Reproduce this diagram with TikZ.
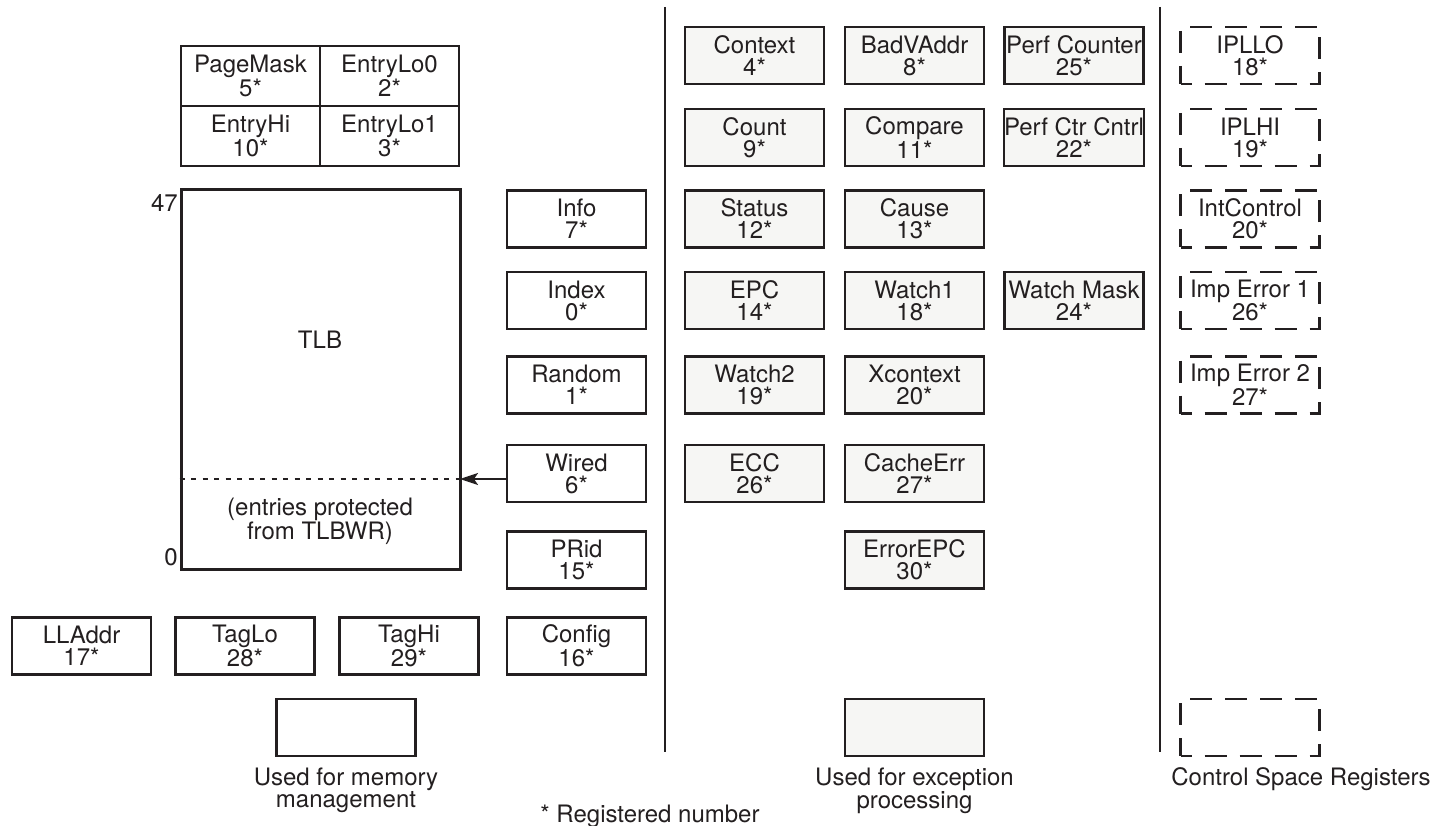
\documentclass[tikz,border=0pt]{standalone}
\usepackage{fontspec}
\setmainfont{TeX Gyre Heros}
\usetikzlibrary{positioning,arrows.meta}
\definecolor{ink}{RGB}{35,31,32}
\definecolor{exfill}{RGB}{246,246,244}

\begin{document}
\begin{tikzpicture}[x=1pt,y=-1pt,
                every node/.style={font=\fontsize{24}{22}\selectfont, text=ink},
                reg/.style={draw=ink, line width=2.1pt, minimum width=139pt, minimum height=57pt, inner sep=0pt, align=center},
                mmreg/.style={reg, fill=white},
                exreg/.style={reg, fill=exfill},
                csreg/.style={reg, dash pattern=on 22pt off 13pt, dash phase=11pt},
                cell/.style={reg, minimum height=60pt},
                sepline/.style={draw=ink, line width=2pt}]
            \useasboundingbox (0,0) rectangle (1446,826);

            \node[cell] (pagemask) at (250.5,76) {PageMask\\5*};
            \node[cell] (entrylo0) at (389.5,76) {EntryLo0\\2*};
            \node[cell] (entryhi) at (250.5,136) {EntryHi\\10*};
            \node[cell] (entrylo1) at (389.5,136) {EntryLo1\\3*};

            \node[draw=ink, line width=3pt, minimum width=279pt, minimum height=379pt, inner sep=0pt] (tlb) at (320.5,379.5) {};
            \node (tlbname) at (320,340) {TLB};
            \node[align=center] (tlbwr) at (320,521) {(entries protected\\from TLBWR)};
            \node[anchor=east, inner sep=1pt] (top47) at (179,203) {47};
            \node[anchor=east, inner sep=1pt] (bot0) at (179,557) {0};

            \node[mmreg] (info) at (576.5,219) {Info\\7*};
            \node[mmreg] (index) at (576.5,300.5) {Index\\0*};
            \node[mmreg] (random) at (576.5,385) {Random\\1*};
            \node[mmreg] (wired) at (576.5,473.5) {Wired\\6*};
            \node[mmreg] (prid) at (576.5,560) {PRid\\15*};
            \node[mmreg] (config) at (576.5,646) {Config\\16*};
            \node[mmreg] (lladdr) at (81.5,646) {LLAddr\\17*};
            \node[mmreg] (taglo) at (245,646) {TagLo\\28*};
            \node[mmreg] (taghi) at (409,646) {TagHi\\29*};

            \coordinate (wiredin) at (460,479);
            \draw[ink, line width=2pt, dash pattern=on 5pt off 6.5pt] (tlb.west |- wiredin) -- (wiredin);
            \draw[ink, line width=2.2pt, -{Stealth[length=18pt, width=12pt, inset=4pt]}] (wired.west |- wiredin) -- (wiredin);

            \node[exreg] (context) at (754.5,55.5) {Context\\4*};
            \node[exreg] (badvaddr) at (914.5,55.5) {BadVAddr\\8*};
            \node[exreg] (perfcounter) at (1074,55.5) {Perf Counter\\25*};
            \node[exreg] (count) at (754.5,137.5) {Count\\9*};
            \node[exreg] (compare) at (914.5,137.5) {Compare\\11*};
            \node[exreg] (perfctrl) at (1074,137.5) {Perf Ctr Cntrl\\22*};
            \node[exreg] (status) at (754.5,219) {Status\\12*};
            \node[exreg] (cause) at (914.5,219) {Cause\\13*};
            \node[exreg] (epc) at (754.5,300.5) {EPC\\14*};
            \node[exreg] (watch1) at (914.5,300.5) {Watch1\\18*};
            \node[exreg] (watchmask) at (1074,300.5) {Watch Mask\\24*};
            \node[exreg] (watch2) at (754.5,385) {Watch2\\19*};
            \node[exreg] (xcontext) at (914.5,385) {Xcontext\\20*};
            \node[exreg] (ecc) at (754.5,473.5) {ECC\\26*};
            \node[exreg] (cacheerr) at (914.5,473.5) {CacheErr\\27*};
            \node[exreg] (errorepc) at (914.5,560) {ErrorEPC\\30*};

            \node[csreg] (iplo) at (1250,55.5) {IPLLO\\18*};
            \node[csreg] (iplhi) at (1250,137.5) {IPLHI\\19*};
            \node[csreg] (intcontrol) at (1250,219) {IntControl\\20*};
            \node[csreg] (imperr1) at (1250,300.5) {Imp Error 1\\26*};
            \node[csreg] (imperr2) at (1250,385) {Imp Error 2\\27*};

            \draw[sepline] (665,7) -- (665,752);
            \draw[sepline] (1160,7) -- (1160,752);

            \node[mmreg] (memkey) at (346,727.5) {};
            \node[exreg] (exkey) at (914.5,727.5) {};
            \node[csreg] (cskey) at (1250,727.5) {};
            \node[below=7pt of memkey, align=center] (memtext) {Used for memory\\management};
            \node[below=7pt of exkey, align=center] (extext) {Used for exception\\processing};
            \node[below=7pt of cskey, xshift=51pt] (cstext) {Control Space Registers};
            \node (regnote) at (650,816) {* Registered number};
        \end{tikzpicture}
\end{document}
